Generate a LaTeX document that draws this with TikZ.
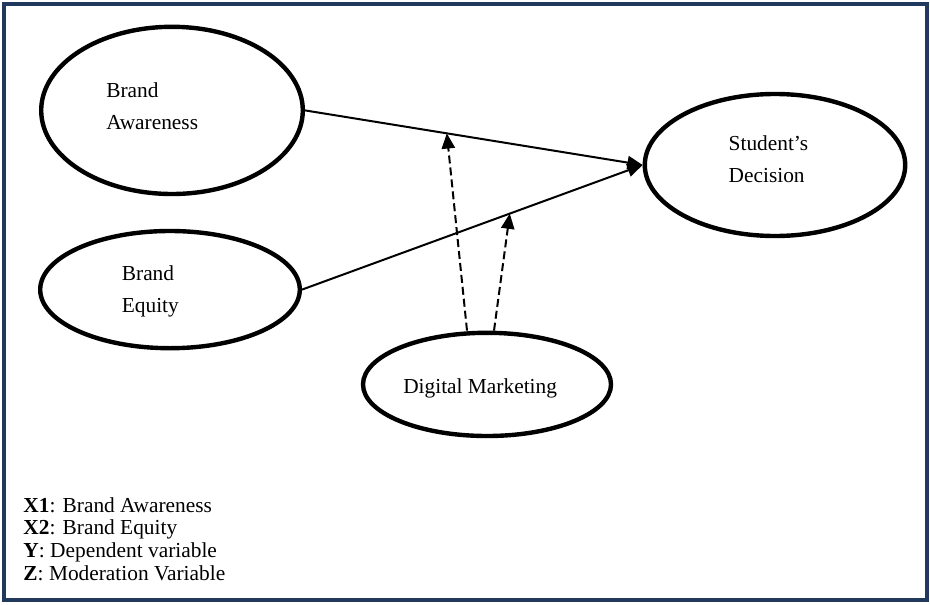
\documentclass[tikz,border=0pt]{standalone}
\usepackage{fontspec}
\setmainfont{Liberation Serif}
\usepackage{tikz}
\usetikzlibrary{positioning, arrows.meta, calc, shapes.geometric}
\definecolor{framenavy}{RGB}{33,57,92}

\begin{document}
\begin{tikzpicture}[>={Triangle[length=0.38cm, width=0.33cm]},
  varnode/.style={ellipse, draw, line width=0.11cm, inner sep=0pt},
  vartext/.style={align=left, inner sep=0pt, font=\fontsize{15.2}{22.8}\selectfont},
  effect/.style={->, line width=0.05cm},
  moderate/.style={->, line width=0.05cm, dash pattern=on 0.2cm off 0.1cm}]
  % Frame
  \useasboundingbox (0,0) rectangle (23.25,-15.1);
  \draw[framenavy, line width=0.1cm] (0.1,-0.1) rectangle (23.175,-15.0);

  % Variables
  \node[varnode, minimum width=6.54cm, minimum height=4.18cm] (aware) at (4.3,-2.76) {};
  \node[varnode, minimum width=6.49cm, minimum height=2.93cm] (equity) at (4.25,-7.24) {};
  \node[varnode, minimum width=6.51cm, minimum height=3.55cm] (decision) at (19.375,-4.125) {};
  \node[varnode, minimum width=6.2cm, minimum height=2.58cm] (digital) at (12.175,-9.61) {};

  % Texts inside the ellipses
  \node[vartext, anchor=north west] (aware-txt) at (2.65,-2.06) {Brand\\Awareness};
  \node[vartext, anchor=north west] (equity-txt) at (3.04,-6.635) {Brand\\Equity};
  \node[vartext, anchor=north west] (decision-txt) at (18.21,-3.385) {Student’s\\Decision};
  \node[vartext, anchor=base west] (digital-txt) at (10.075,-9.83) {Digital Marketing};

  % Direct effects
  \draw[effect] (aware.east) -- (decision.west);
  \draw[effect] (equity.east) -- (decision.west);

  % Moderation
  \coordinate (mod1) at ($(aware.east)!0.42!(decision.west)$);
  \coordinate (mod2) at ($(equity.east)!0.61!(decision.west)$);
  \draw[moderate] ([xshift=-0.5cm]digital.north) -- (mod1);
  \draw[moderate] ([xshift=0.175cm]digital.north) -- (mod2);

  % Key
  \node[anchor=north west, align=left, inner sep=0pt, font=\fontsize{15.2}{16.2}\selectfont] (key) at (0.58,-12.425)
    {\textbf{X1}: Brand Awareness\\\textbf{X2}: Brand Equity\\\textbf{Y}: Dependent variable\\\textbf{Z}: Moderation Variable};
\end{tikzpicture}
\end{document}
